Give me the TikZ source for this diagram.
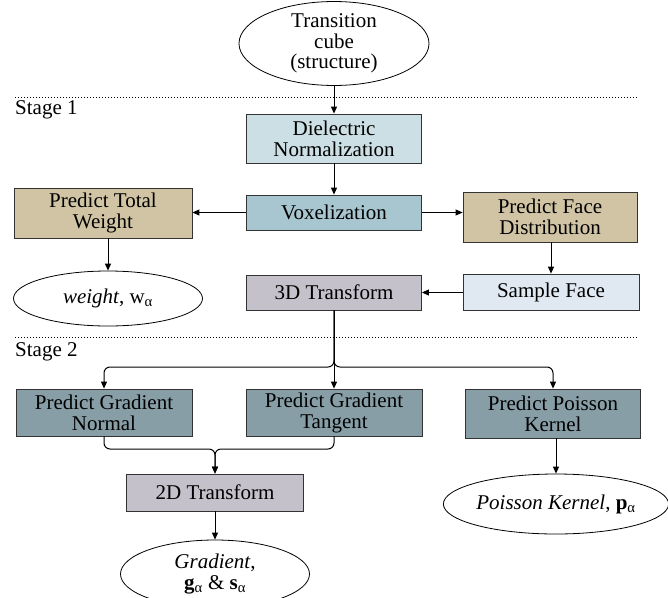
\documentclass[tikz,border=0pt]{standalone}
\usepackage{fontspec}
\setmainfont{Liberation Serif}
\usepackage{xcolor}
\usetikzlibrary{positioning}
\usetikzlibrary{shapes.geometric}
\usetikzlibrary{arrows.meta}

\definecolor{dielcol}{HTML}{CCDFE5}
\definecolor{voxcol}{HTML}{A8C6D0}
\definecolor{tancol}{HTML}{D0C4A4}
\definecolor{samplecol}{HTML}{E0E9F2}
\definecolor{transcol}{HTML}{C4C1CB}
\definecolor{gradcol}{HTML}{879EA7}

\begin{document}
\begin{tikzpicture}[x=1pt, y=-1pt,
    font=\fontsize{21}{21}\selectfont,
    box/.style={draw=black!80, line width=0.8pt, rectangle, align=center, inner sep=0pt, minimum width=175pt},
    oval/.style={draw=black, line width=0.8pt, ellipse, align=center, inner sep=0pt, fill=white, font=\fontsize{21}{20.5}\selectfont},
    arr/.style={-{Triangle[length=7pt, width=6pt]}, line width=1pt},
    stageline/.style={dotted, line width=1pt}]
    \useasboundingbox (0,0) rectangle (668,597);

    % stage separators
    \draw[stageline] (15,97) -- (637,97);
    \draw[stageline] (15,337) -- (637,337);
    \node[anchor=west, inner sep=0pt] (stage1) at (15,110) {Stage 1};
    \node[anchor=west, inner sep=0pt] (stage2) at (15,352) {Stage 2};

    % stage 1
    \node[oval, minimum width=190pt, minimum height=77pt] (cube) at (334,43.5) {Transition\\cube\\(structure)};
    \node[box, fill=dielcol, minimum height=49pt] (diel) at (334,138.5) {Dielectric\\Normalization};
    \node[box, fill=voxcol, minimum height=35pt] (vox) at (334,212.5) {Voxelization};
    \node[box, fill=tancol, minimum width=178pt, minimum height=50pt] (ptw) at (103,213) {Predict Total\\Weight};
    \node[box, fill=tancol, minimum width=174pt, minimum height=50pt] (pfd) at (550,217) {Predict Face\\Distribution};
    \node[oval, minimum width=189pt, minimum height=55pt] (weight) at (108,298.5) {\textit{weight}, w\textsubscript{α}};
    \node[box, fill=samplecol, minimum width=176pt, minimum height=36pt] (sample) at (551,292) {Sample Face};
    \node[box, fill=transcol, minimum height=35pt] (trans3d) at (334,292.5) {3D Transform};

    \draw[arr] (cube) -- (diel);
    \draw[arr] (diel) -- (vox);
    \draw[arr] (vox.west) -- (vox.west -| ptw.east);
    \draw[arr] (vox.east) -- (vox.east -| pfd.west);
    \draw[arr] (ptw.south -| weight.north) -- (weight.north);
    \draw[arr] (pfd.south -| sample.north) -- (sample.north);
    \draw[arr] (sample.west |- trans3d.east) -- (trans3d.east);

    % stage 2
    \node[box, fill=gradcol, minimum width=176pt, minimum height=47pt] (normal) at (104,412.5) {Predict Gradient\\Normal};
    \node[box, fill=gradcol, minimum width=176pt, minimum height=47pt] (tangent) at (334,412.5) {Predict Gradient\\Tangent};
    \node[box, fill=gradcol, minimum height=49pt] (poisson) at (553,413.5) {Predict Poisson\\Kernel};
    \node[box, fill=transcol, minimum width=177pt, minimum height=37pt] (trans2d) at (215,492.5) {2D Transform};
    \node[oval, minimum width=188pt, minimum height=60pt] (kernel) at (556,504) {\textit{Poisson Kernel}, \textbf{p}\textsubscript{α}};
    \node[oval, minimum width=189pt, minimum height=68pt] (grad) at (215,574) {\textit{Gradient},\\\textbf{g}\textsubscript{α} \& \textbf{s}\textsubscript{α}};

    \coordinate (split) at (334,367);
    \coordinate (merge) at (215,449);

    \draw[arr] (trans3d) -- (tangent);
    \draw[arr, rounded corners=6pt] (trans3d.south) -- (split) -| (normal.north);
    \draw[arr, rounded corners=6pt] (trans3d.south) -- (split) -| (poisson.north);
    \draw[arr, rounded corners=6pt] (normal.south) |- (merge) -- (trans2d.north);
    \draw[arr, rounded corners=6pt] (tangent.south) |- (merge) -- (trans2d.north);
    \draw[arr] (trans2d) -- (grad);
    \draw[arr] (poisson.south -| kernel.north) -- (kernel.north);
\end{tikzpicture}
\end{document}
